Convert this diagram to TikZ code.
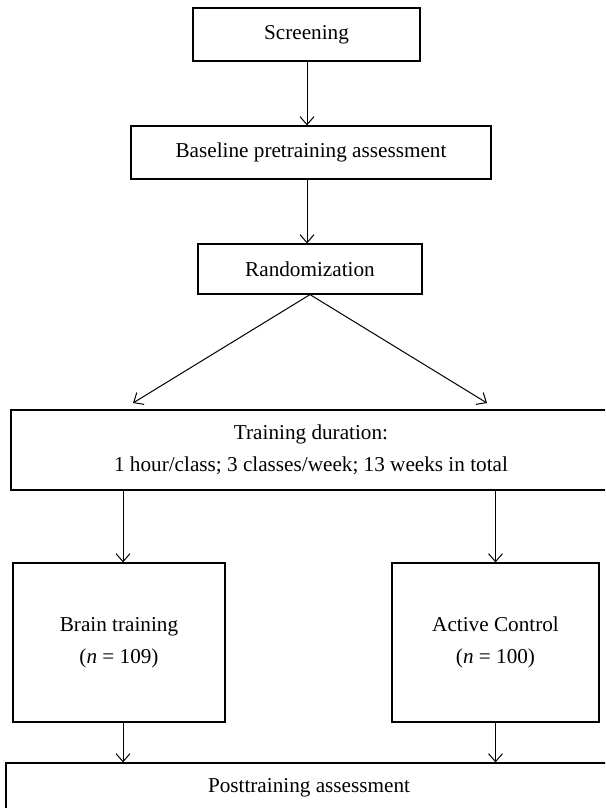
\documentclass[tikz,border=0pt]{standalone}
\usepackage{fontspec}
\setmainfont{Liberation Serif}
\usetikzlibrary{arrows.meta}
\begin{document}
\begin{tikzpicture}[x=0.5pt, y=-0.5pt]
    \useasboundingbox (0,0) rectangle (605,808);
    \clip (0,0) rectangle (605,808);
    \tikzstyle{every node}=[rectangle, draw=black, line width=0.6pt, inner sep=0pt, align=center, font=\fontsize{10.6}{15}\selectfont, text=black]
    \tikzstyle{edge}=[black, line width=0.5pt, -{Straight Barb[length=4pt, width=7pt]}]

    \node[minimum width=113.5pt, minimum height=26.5pt] (scr) at (306.5,34.5) {Screening};
    \node[minimum width=180pt, minimum height=26.5pt] (base) at (311,152.5) {Baseline pretraining assessment};
    \node[minimum width=112pt, minimum height=25pt] (rnd) at (310,269) {Randomization};
    \node[minimum width=300pt, minimum height=40pt] (dur) at (311,450) {Training duration:\\[1pt]1 hour/class; 3 classes/week; 13 weeks in total};
    \node[minimum width=106pt, minimum height=79.5pt] (brain) at (119,642.5) {Brain training\\[1pt](\textit{n} = 109)};
    \node[minimum width=103.5pt, minimum height=79.5pt] (ctrl) at (495.5,642.5) {Active Control\\[1pt](\textit{n} = 100)};
    \node[minimum width=303pt, minimum height=24.5pt] (post) at (309,787.5) {Posttraining assessment};

    \coordinate (dl) at (133,403);
    \coordinate (dr) at (487,403);

    \draw[edge] (scr.south -| 307,0) -- (base.north -| 307,0);
    \draw[edge] (base.south -| 307,0) -- (rnd.north -| 307,0);
    \draw[edge] (rnd.south) -- (dl);
    \draw[edge] (rnd.south) -- (dr);
    \draw[edge] (dur.south -| 123,0) -- (brain.north -| 123,0);
    \draw[edge] (dur.south -| ctrl.north) -- (ctrl.north);
    \draw[edge] (brain.south -| 123,0) -- (post.north -| 123,0);
    \draw[edge] (ctrl.south) -- (post.north -| ctrl.south);
\end{tikzpicture}
\end{document}
